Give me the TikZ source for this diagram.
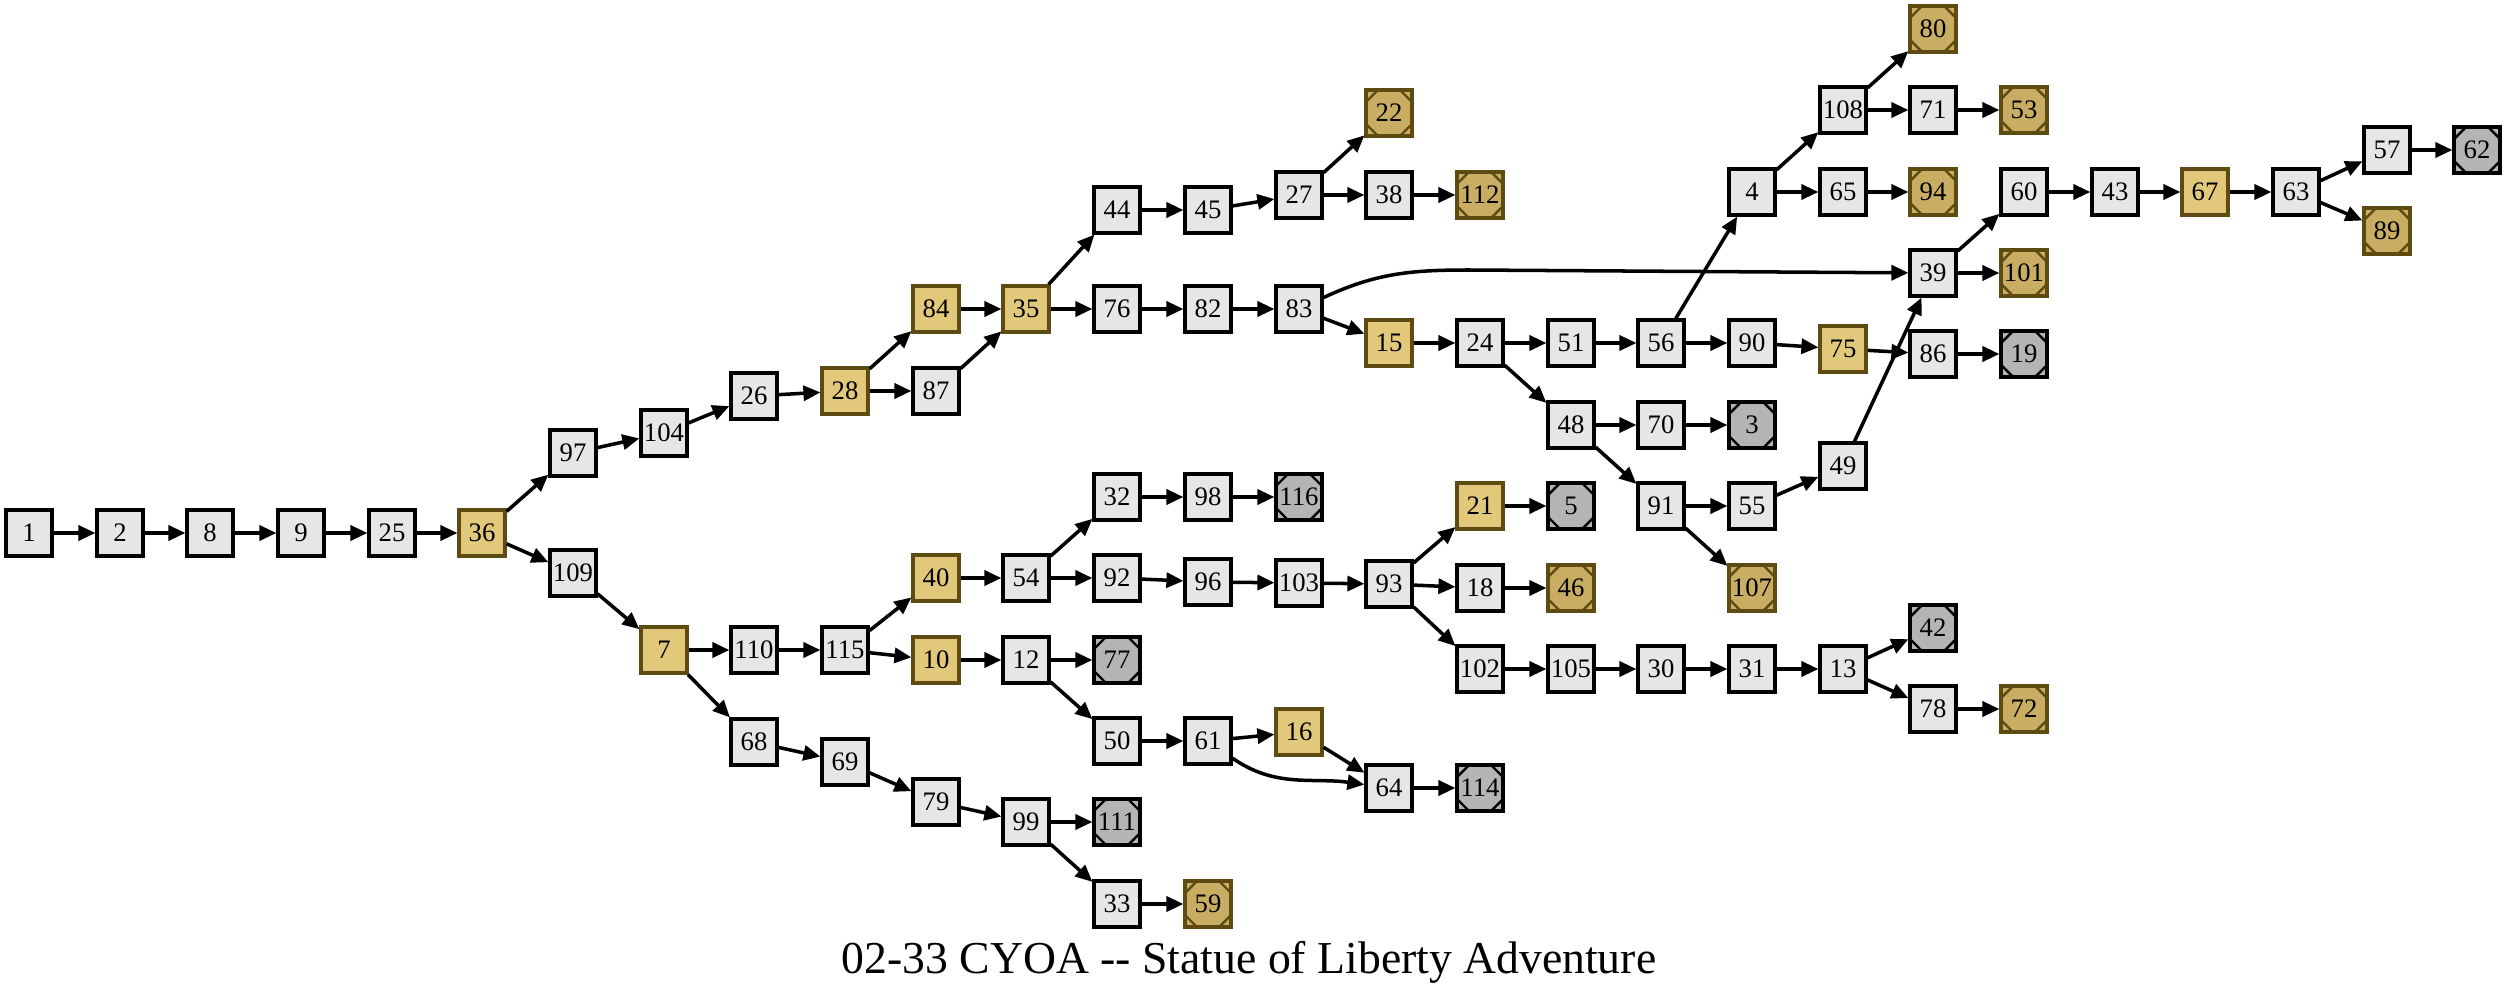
\documentclass[tikz,border=0pt]{standalone}
\usepackage{fontspec}
\setmainfont{Liberation Serif}
\usepackage{tikz}
\usetikzlibrary{arrows.meta,positioning}
\definecolor{pagefill}{HTML}{E6E6E6}
\definecolor{choicefill}{HTML}{E2C87A}
\definecolor{goldfill}{HTML}{C8AD62}
\definecolor{grayfill}{HTML}{B4B4B4}
\definecolor{goldline}{HTML}{5E4B12}
\tikzset
{
    pagenode/.style   = {draw=black, fill=pagefill, line width=0.9pt, minimum size=0.46cm, inner sep=0pt, font=\fontsize{7.6}{8}\selectfont},
    choicenode/.style = {pagenode, draw=goldline, fill=choicefill},
    cutcorners/.style = {path picture={
        \draw[-, line width=0.7pt, #1]
            ([xshift=0.12cm]path picture bounding box.north west) -- ([yshift=-0.12cm]path picture bounding box.north west)
            ([xshift=-0.12cm]path picture bounding box.north east) -- ([yshift=-0.12cm]path picture bounding box.north east)
            ([xshift=0.12cm]path picture bounding box.south west) -- ([yshift=0.12cm]path picture bounding box.south west)
            ([xshift=-0.12cm]path picture bounding box.south east) -- ([yshift=0.12cm]path picture bounding box.south east);}},
    endgold/.style    = {pagenode, draw=goldline, fill=goldfill, cutcorners=goldline},
    endgray/.style    = {pagenode, fill=grayfill, cutcorners=black}
}
\begin{document}
\begin{tikzpicture}[->, >={Triangle[length=0.17cm, width=0.15cm]}, line width=1pt]
    \useasboundingbox (0,0) rectangle (25.07,9.92);
    \node [pagenode] (n1) at (0.29,4.59) {1};
    \node [pagenode] (n2) at (1.20,4.59) {2};
    \node [pagenode] (n8) at (2.10,4.59) {8};
    \node [pagenode] (n9) at (3.01,4.59) {9};
    \node [pagenode] (n25) at (3.92,4.59) {25};
    \node [choicenode] (n36) at (4.82,4.59) {36};
    \node [pagenode] (n97) at (5.73,5.39) {97};
    \node [pagenode] (n109) at (5.73,4.19) {109};
    \node [pagenode] (n104) at (6.64,5.59) {104};
    \node [choicenode] (n7) at (6.64,3.42) {7};
    \node [pagenode] (n26) at (7.54,5.96) {26};
    \node [pagenode] (n110) at (7.54,3.42) {110};
    \node [pagenode] (n68) at (7.54,2.50) {68};
    \node [choicenode] (n28) at (8.45,6.01) {28};
    \node [pagenode] (n115) at (8.45,3.42) {115};
    \node [pagenode] (n69) at (8.45,2.30) {69};
    \node [choicenode] (n84) at (9.36,6.83) {84};
    \node [pagenode] (n87) at (9.36,6.01) {87};
    \node [choicenode] (n40) at (9.36,4.14) {40};
    \node [choicenode] (n10) at (9.36,3.32) {10};
    \node [pagenode] (n79) at (9.36,1.90) {79};
    \node [choicenode] (n35) at (10.26,6.83) {35};
    \node [pagenode] (n54) at (10.26,4.14) {54};
    \node [pagenode] (n12) at (10.26,3.32) {12};
    \node [pagenode] (n99) at (10.26,1.70) {99};
    \node [pagenode] (n44) at (11.17,7.82) {44};
    \node [pagenode] (n76) at (11.17,6.83) {76};
    \node [pagenode] (n32) at (11.17,4.95) {32};
    \node [pagenode] (n92) at (11.17,4.14) {92};
    \node [endgray] (n77) at (11.17,3.32) {77};
    \node [pagenode] (n50) at (11.17,2.51) {50};
    \node [endgray] (n111) at (11.17,1.70) {111};
    \node [pagenode] (n33) at (11.17,0.88) {33};
    \node [pagenode] (n45) at (12.08,7.82) {45};
    \node [pagenode] (n82) at (12.08,6.83) {82};
    \node [pagenode] (n98) at (12.08,4.95) {98};
    \node [pagenode] (n96) at (12.08,4.10) {96};
    \node [pagenode] (n61) at (12.08,2.51) {61};
    \node [endgold] (n59) at (12.08,0.88) {59};
    \node [pagenode] (n27) at (12.99,7.97) {27};
    \node [pagenode] (n83) at (12.99,6.83) {83};
    \node [endgray] (n116) at (12.99,4.95) {116};
    \node [pagenode] (n103) at (12.99,4.09) {103};
    \node [choicenode] (n16) at (12.99,2.60) {16};
    \node [endgold] (n22) at (13.89,8.79) {22};
    \node [pagenode] (n38) at (13.89,7.97) {38};
    \node [choicenode] (n15) at (13.89,6.49) {15};
    \node [pagenode] (n93) at (13.89,4.08) {93};
    \node [pagenode] (n64) at (13.89,2.04) {64};
    \node [endgold] (n112) at (14.80,7.97) {112};
    \node [pagenode] (n24) at (14.80,6.49) {24};
    \node [choicenode] (n21) at (14.80,4.86) {21};
    \node [pagenode] (n18) at (14.80,4.04) {18};
    \node [pagenode] (n102) at (14.80,3.23) {102};
    \node [endgray] (n114) at (14.80,2.04) {114};
    \node [pagenode] (n51) at (15.71,6.49) {51};
    \node [pagenode] (n48) at (15.71,5.67) {48};
    \node [endgray] (n5) at (15.71,4.86) {5};
    \node [endgold] (n46) at (15.71,4.04) {46};
    \node [pagenode] (n105) at (15.71,3.23) {105};
    \node [pagenode] (n56) at (16.61,6.49) {56};
    \node [pagenode] (n70) at (16.61,5.67) {70};
    \node [pagenode] (n91) at (16.61,4.86) {91};
    \node [pagenode] (n30) at (16.61,3.23) {30};
    \node [pagenode] (n4) at (17.52,8.00) {4};
    \node [pagenode] (n90) at (17.52,6.49) {90};
    \node [endgray] (n3) at (17.52,5.67) {3};
    \node [pagenode] (n55) at (17.52,4.86) {55};
    \node [endgold] (n107) at (17.52,4.04) {107};
    \node [pagenode] (n31) at (17.52,3.23) {31};
    \node [pagenode] (n108) at (18.43,8.82) {108};
    \node [pagenode] (n65) at (18.43,8.00) {65};
    \node [choicenode] (n75) at (18.43,6.43) {75};
    \node [pagenode] (n49) at (18.43,5.26) {49};
    \node [pagenode] (n13) at (18.43,3.23) {13};
    \node [endgold] (n80) at (19.33,9.63) {80};
    \node [pagenode] (n71) at (19.33,8.82) {71};
    \node [endgold] (n94) at (19.33,8.00) {94};
    \node [pagenode] (n39) at (19.33,7.19) {39};
    \node [pagenode] (n86) at (19.33,6.38) {86};
    \node [endgray] (n42) at (19.33,3.64) {42};
    \node [pagenode] (n78) at (19.33,2.83) {78};
    \node [endgold] (n53) at (20.24,8.82) {53};
    \node [pagenode] (n60) at (20.24,8.00) {60};
    \node [endgold] (n101) at (20.24,7.19) {101};
    \node [endgray] (n19) at (20.24,6.38) {19};
    \node [endgold] (n72) at (20.24,2.83) {72};
    \node [pagenode] (n43) at (21.15,8.00) {43};
    \node [choicenode] (n67) at (22.05,8.00) {67};
    \node [pagenode] (n63) at (22.96,8.00) {63};
    \node [pagenode] (n57) at (23.87,8.42) {57};
    \node [endgold] (n89) at (23.87,7.61) {89};
    \node [endgray] (n62) at (24.77,8.42) {62};
    \coordinate (bend83) at (14.69,7.22);
    \node [anchor=base, font=\fontsize{13}{15}\selectfont] (title) at (12.49,0.19) {02-33 CYOA -{}- Statue of Liberty Adventure};

    \draw (n1) -- (n2);
    \draw (n2) -- (n8);
    \draw (n8) -- (n9);
    \draw (n9) -- (n25);
    \draw (n25) -- (n36);
    \draw (n36) -- (n97);
    \draw (n36) -- (n109);
    \draw (n97) -- (n104);
    \draw (n104) -- (n26);
    \draw (n26) -- (n28);
    \draw (n28) -- (n84);
    \draw (n28) -- (n87);
    \draw (n84) -- (n35);
    \draw (n87) -- (n35);
    \draw (n35) -- (n44);
    \draw (n35) -- (n76);
    \draw (n44) -- (n45);
    \draw (n45) -- (n27);
    \draw (n27) -- (n22);
    \draw (n27) -- (n38);
    \draw (n38) -- (n112);
    \draw (n76) -- (n82);
    \draw (n82) -- (n83);
    \draw (n83) to[out=25, in=180] (bend83) -- (n39);
    \draw (n83) -- (n15);
    \draw (n15) -- (n24);
    \draw (n24) -- (n51);
    \draw (n24) -- (n48);
    \draw (n51) -- (n56);
    \draw (n56) -- (n4);
    \draw (n56) -- (n90);
    \draw (n4) -- (n108);
    \draw (n4) -- (n65);
    \draw (n108) -- (n80);
    \draw (n108) -- (n71);
    \draw (n71) -- (n53);
    \draw (n65) -- (n94);
    \draw (n90) -- (n75);
    \draw (n75) -- (n86);
    \draw (n86) -- (n19);
    \draw (n48) -- (n70);
    \draw (n48) -- (n91);
    \draw (n70) -- (n3);
    \draw (n91) -- (n55);
    \draw (n91) -- (n107);
    \draw (n55) -- (n49);
    \draw (n49) -- (n39);
    \draw (n39) -- (n60);
    \draw (n39) -- (n101);
    \draw (n60) -- (n43);
    \draw (n43) -- (n67);
    \draw (n67) -- (n63);
    \draw (n63) -- (n57);
    \draw (n63) -- (n89);
    \draw (n57) -- (n62);
    \draw (n109) -- (n7);
    \draw (n7) -- (n110);
    \draw (n7) -- (n68);
    \draw (n110) -- (n115);
    \draw (n115) -- (n40);
    \draw (n115) -- (n10);
    \draw (n40) -- (n54);
    \draw (n54) -- (n32);
    \draw (n54) -- (n92);
    \draw (n32) -- (n98);
    \draw (n98) -- (n116);
    \draw (n92) -- (n96);
    \draw (n96) -- (n103);
    \draw (n103) -- (n93);
    \draw (n93) -- (n21);
    \draw (n93) -- (n18);
    \draw (n93) -- (n102);
    \draw (n21) -- (n5);
    \draw (n18) -- (n46);
    \draw (n102) -- (n105);
    \draw (n105) -- (n30);
    \draw (n30) -- (n31);
    \draw (n31) -- (n13);
    \draw (n13) -- (n42);
    \draw (n13) -- (n78);
    \draw (n78) -- (n72);
    \draw (n10) -- (n12);
    \draw (n12) -- (n77);
    \draw (n12) -- (n50);
    \draw (n50) -- (n61);
    \draw (n61) -- (n16);
    \draw (n61) to[out=-35, in=172] (n64);
    \draw (n16) -- (n64);
    \draw (n64) -- (n114);
    \draw (n68) -- (n69);
    \draw (n69) -- (n79);
    \draw (n79) -- (n99);
    \draw (n99) -- (n111);
    \draw (n99) -- (n33);
    \draw (n33) -- (n59);
\end{tikzpicture}
\end{document}
